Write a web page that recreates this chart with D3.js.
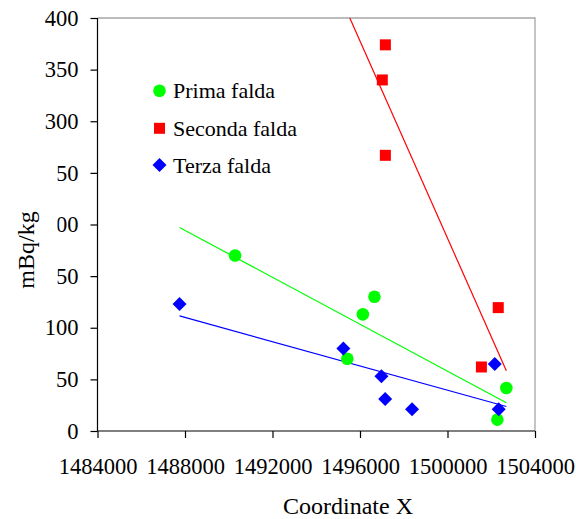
<!DOCTYPE html>
<html>
<head>
<meta charset="utf-8">
<script src="https://cdn.jsdelivr.net/npm/d3@7/dist/d3.min.js"></script>
<style>
  html, body { margin: 0; padding: 0; background: #fff; }
  svg { display: block; }
  text { font-family: "Liberation Serif", "Times New Roman", serif; fill: #000; }
</style>
</head>
<body>
<svg id="chart" width="576" height="519"></svg>
<script>
// ---- data ----
const seriesNames = ["Prima falda", "Seconda falda", "Terza falda"];
const primaX = [1490290, 1495420, 1496130, 1496660, 1502280, 1502690];
const primaY = [170, 70, 113, 130, 11, 41.6];
const secondaX = [1497020, 1497160, 1497160, 1501550, 1502320];
const secondaY = [340, 374, 267, 62, 119.5];
const terzaX = [1487750, 1495240, 1496980, 1497150, 1498380, 1502160, 1502340];
const terzaY = [123, 80, 53, 31, 21, 65, 21];
const xTicks = [1484000, 1488000, 1492000, 1496000, 1500000, 1504000];
const yTicks = [0, 50, 100, 150, 200, 250, 300, 350, 400];
const xTitle = "Coordinate X";
const yTitle = "mBq/kg";

// ---- layout ----
const L = 97.5, R = 535, T = 18, B = 431;
const svg = d3.select("#chart");
const x = d3.scaleLinear().domain([1484000, 1504000]).range([L, R]);
const y = d3.scaleLinear().domain([0, 400]).range([B, T]);

const series = [
  { name: seriesNames[0], xs: primaX, ys: primaY, color: "#00ff00", shape: "circle" },
  { name: seriesNames[1], xs: secondaX, ys: secondaY, color: "#ff0000", shape: "square" },
  { name: seriesNames[2], xs: terzaX, ys: terzaY, color: "#0000ff", shape: "diamond" }
];

// frame (top & right, grey)
svg.append("path")
  .attr("d", `M${L},${T}H${R}V${B}`)
  .attr("fill", "none").attr("stroke", "#a6a6a6").attr("stroke-width", 1.3);

// clip path for plot area
svg.append("defs").append("clipPath").attr("id", "plotclip")
  .append("rect").attr("x", L).attr("y", T).attr("width", R - L).attr("height", B - T);

// axes
const yAxis = svg.append("g").attr("transform", `translate(${L},0)`)
  .call(d3.axisLeft(y).tickValues(yTicks).tickSize(7).tickPadding(12).tickFormat(d3.format("d")));
const xAxis = svg.append("g").attr("transform", `translate(0,${B})`)
  .call(d3.axisBottom(x).tickValues(xTicks).tickSize(7).tickFormat(d3.format("d")));
[xAxis, yAxis].forEach(g => {
  g.select(".domain").attr("stroke", "#000").attr("stroke-width", 1.2);
  g.selectAll(".tick line").attr("stroke", "#000").attr("stroke-width", 1.2);
  g.selectAll("text").style("font-family", '"Liberation Serif", serif').style("font-size", "22.5px").attr("fill", "#000");
});
yAxis.select(".domain").attr("d", `M0,${B}V${T}`);
xAxis.select(".domain").attr("d", `M${L},0H${R}`);
xAxis.selectAll(".tick text").attr("y", 43).attr("dy", 0);

// trend lines (least-squares fit over full data x-range)
const allX = [].concat(primaX, secondaX, terzaX);
const [xMin, xMax] = d3.extent(allX);
function fit(xs, ys) {
  const mx = d3.mean(xs), my = d3.mean(ys);
  let sxy = 0, sxx = 0;
  xs.forEach((v, i) => { sxy += (v - mx) * (ys[i] - my); sxx += (v - mx) * (v - mx); });
  const b = sxy / sxx;
  return v => my + b * (v - mx);
}
const plot = svg.append("g").attr("clip-path", "url(#plotclip)");
series.forEach(s => {
  const f = fit(s.xs, s.ys);
  plot.append("line")
    .attr("x1", x(xMin)).attr("y1", y(f(xMin)))
    .attr("x2", x(xMax)).attr("y2", y(f(xMax)))
    .attr("stroke", s.color).attr("stroke-width", 1.2);
});

// markers
function drawMarker(g, shape, cx, cy, color) {
  if (shape === "circle") {
    g.append("circle").attr("cx", cx).attr("cy", cy).attr("r", 6.3).attr("fill", color);
  } else if (shape === "square") {
    g.append("rect").attr("x", cx - 5.5).attr("y", cy - 5.5).attr("width", 11).attr("height", 11).attr("fill", color);
  } else {
    g.append("path").attr("d", `M${cx},${cy - 7}L${cx + 7},${cy}L${cx},${cy + 7}L${cx - 7},${cy}Z`).attr("fill", color);
  }
}
const marks = svg.append("g");
series.forEach(s => {
  s.xs.forEach((v, i) => drawMarker(marks, s.shape, x(v), y(s.ys[i]), s.color));
});

// legend
const legend = svg.append("g");
const legY = [90.7, 128.3, 165];
series.forEach((s, i) => {
  drawMarker(legend, s.shape, 159.5, legY[i], s.color);
  legend.append("text").attr("x", 173).attr("y", legY[i] + 7.5)
    .style("font-family", '"Liberation Serif", serif')
    .style("font-size", "22px").text(s.name);
});

// axis titles
svg.append("text").attr("x", 348).attr("y", 514).attr("text-anchor", "middle")
  .style("font-family", '"Liberation Serif", serif')
  .style("font-size", "24px").text(xTitle);
// white box behind the y title (it covers part of some tick labels, as in the original)
svg.append("rect").attr("x", 0).attr("y", 140).attr("width", 57.5).attr("height", 160).attr("fill", "#fff");
svg.append("text").attr("transform", "translate(34,250) rotate(-90)").attr("text-anchor", "middle")
  .style("font-family", '"Liberation Serif", serif')
  .style("font-size", "24px").text(yTitle);
</script>
</body>
</html>
